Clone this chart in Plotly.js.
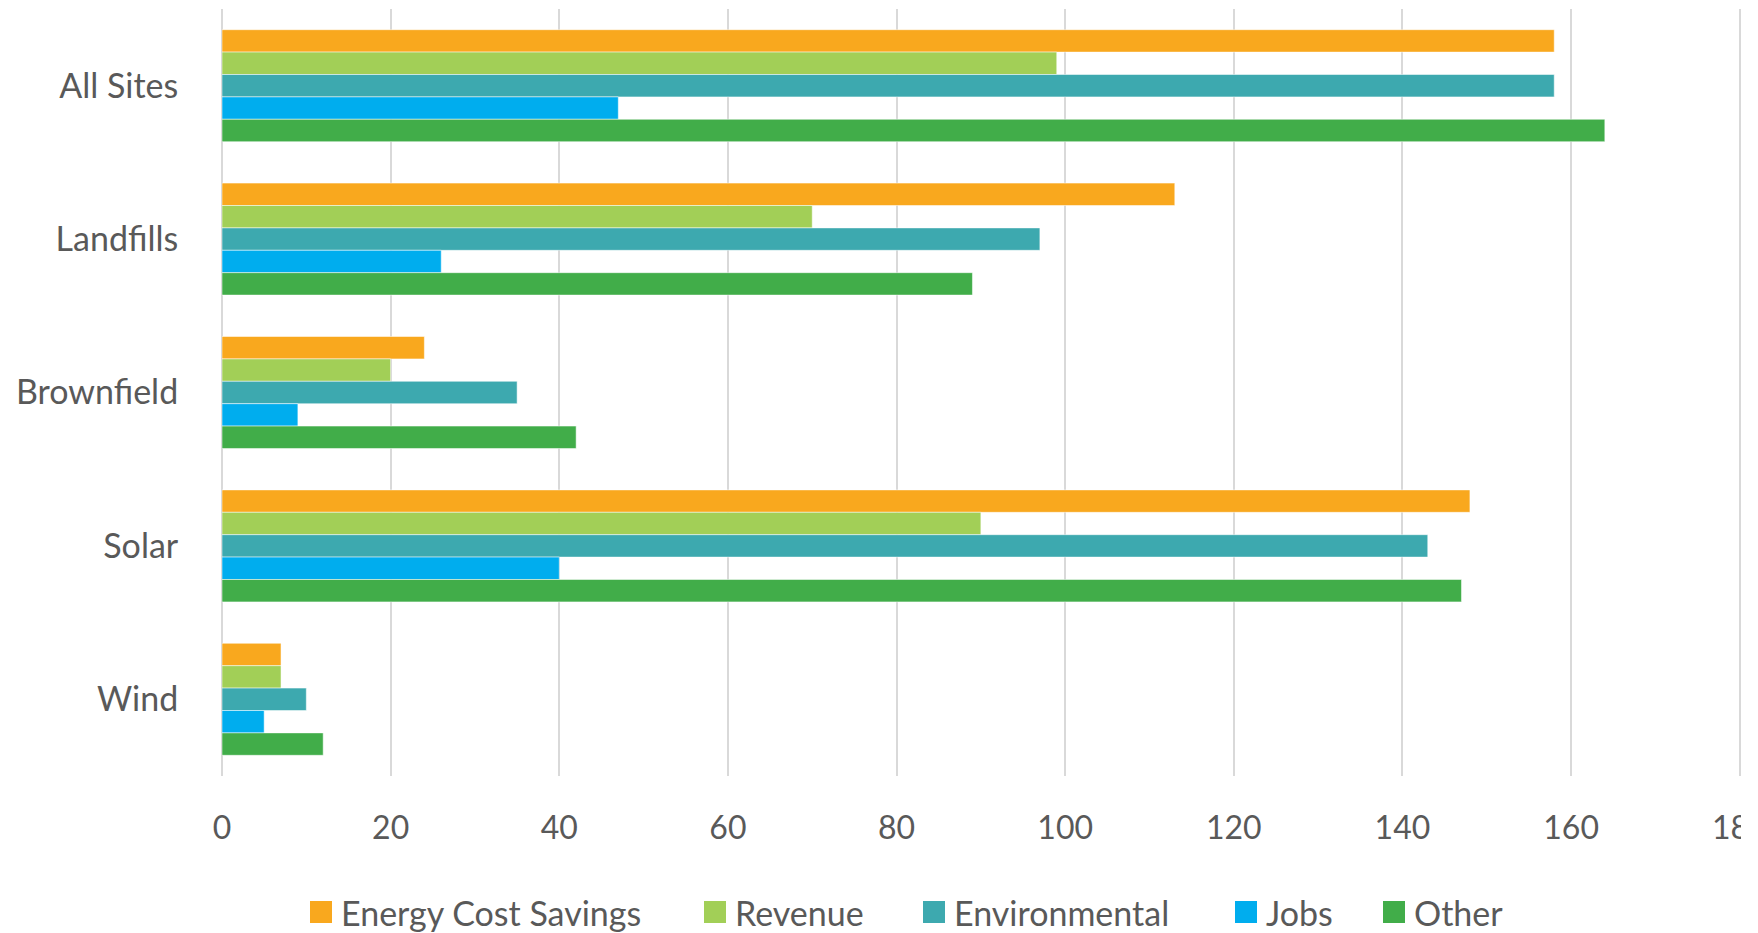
<!DOCTYPE html>
<html>
<head>
<meta charset="utf-8">
<script src="https://cdn.plot.ly/plotly-3.0.1.min.js"></script>
<style>html,body{margin:0;padding:0;background:#fff;}#chart{width:1758px;height:933px;}</style>
</head>
<body>
<div id="chart"></div>
<script>
const categories = ["All Sites", "Landfills", "Brownfield", "Solar", "Wind"];
const seriesNames = ["Energy Cost Savings", "Revenue", "Environmental", "Jobs", "Other"];
const energyCostSavings = [158, 113, 24, 148, 7];
const revenue = [99, 70, 20, 90, 7];
const environmental = [158, 97, 35, 143, 10];
const jobs = [47, 26, 9, 40, 5];
const other = [164, 89, 42, 147, 12];
const xTicks = [0, 20, 40, 60, 80, 100, 120, 140, 160, 180];
const colors = ["#F9A81E", "#A2CF57", "#3DA9AF", "#00ADEE", "#41AD49"];

const seriesValues = [energyCostSavings, revenue, environmental, jobs, other];
const traces = seriesValues.map((vals, i) => ({
  type: "bar",
  orientation: "h",
  name: seriesNames[i],
  x: vals,
  y: categories,
  marker: {color: colors[i], line: {color: "rgba(255,255,255,0.5)", width: 1}},
  hoverinfo: "x+name",
  showlegend: false
}));

// figure geometry (pixels)
const W = 1758, H = 933;
const M = {l: 222, r: 17, t: 9, b: 157};
const plotW = W - M.l - M.r, plotH = H - M.t - M.b;
const px2x = px => (px - M.l) / plotW;
const px2y = py => (H - M.b - py) / plotH;

const font = "Lato, 'Open Sans', sans-serif";

// custom legend (large square swatches like the original)
const legendLeft = [310, 704, 923, 1235, 1383];
const legendCY = 912, sw = 22;
const shapes = [];
const annotations = [];
seriesNames.forEach((name, i) => {
  shapes.push({
    type: "rect", xref: "paper", yref: "paper", layer: "above",
    x0: px2x(legendLeft[i]), x1: px2x(legendLeft[i] + sw),
    y0: px2y(legendCY + sw / 2), y1: px2y(legendCY - sw / 2),
    fillcolor: colors[i], line: {width: 0}
  });
  annotations.push({
    xref: "paper", yref: "paper", x: px2x(legendLeft[i] + 29), y: px2y(legendCY + 1),
    xanchor: "left", yanchor: "middle", showarrow: false, text: name,
    font: {family: font, size: 34, color: "#595959"}
  });
});
// the original image is cut at its right edge through the last tick label
shapes.push({
  type: "rect", xref: "paper", yref: "paper", layer: "above",
  x0: px2x(1741), x1: px2x(W + 5), y0: px2y(870), y1: px2y(790),
  fillcolor: "#ffffff", line: {width: 0}
});

const layout = {
  width: W,
  height: H,
  margin: {l: M.l, r: M.r, t: M.t, b: M.b, autoexpand: false},
  paper_bgcolor: "#ffffff",
  plot_bgcolor: "#ffffff",
  barmode: "group",
  bargap: 0.27,
  bargroupgap: 0,
  font: {family: font, color: "#595959", size: 33},
  showlegend: false,
  shapes: shapes,
  annotations: annotations,
  xaxis: {
    range: [0, 180.15],
    tickvals: xTicks,
    ticktext: xTicks.map(String),
    showgrid: true,
    gridcolor: "#d9d9d9",
    gridwidth: 2,
    zeroline: true,
    zerolinecolor: "#d9d9d9",
    zerolinewidth: 2,
    showline: false,
    ticks: "outside",
    ticklen: 24,
    tickcolor: "rgba(0,0,0,0)",
    tickfont: {family: font, size: 32, color: "#595959"},
    ticklabeloverflow: "allow",
    automargin: false
  },
  yaxis: {
    type: "category",
    categoryorder: "array",
    categoryarray: categories,
    autorange: "reversed",
    showgrid: false,
    zeroline: false,
    showline: false,
    ticks: "outside",
    ticklen: 36,
    tickcolor: "rgba(0,0,0,0)",
    tickfont: {family: font, size: 34, color: "#595959"},
    automargin: false
  }
};

Plotly.newPlot("chart", traces, layout, {displayModeBar: false, staticPlot: true});
</script>
</body>
</html>
